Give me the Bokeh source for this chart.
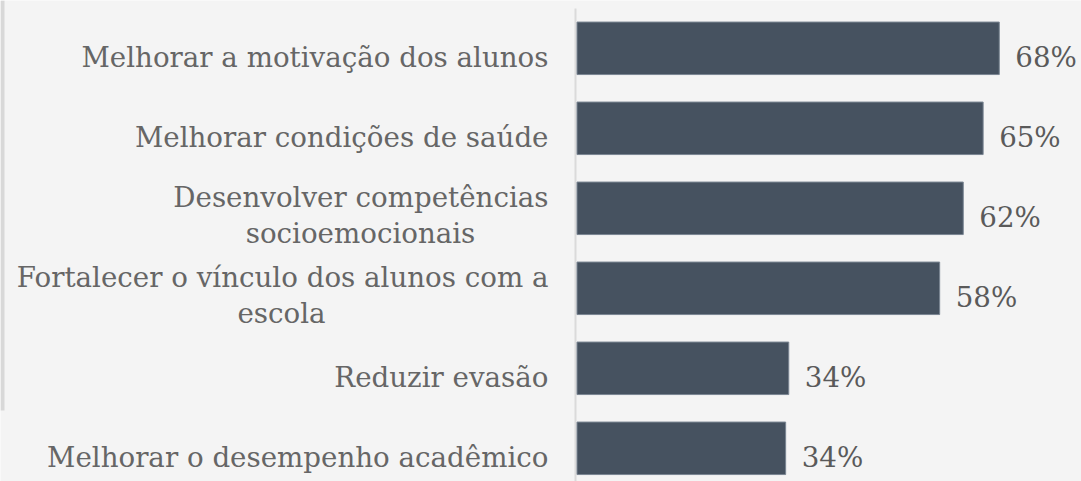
from bokeh.plotting import figure
from bokeh.models import Range1d
from bokeh.core.properties import value
from bokeh.embed import file_html
from bokeh.resources import INLINE

# ---- data ----
categories = [
    "Melhorar a motivação dos alunos",
    "Melhorar condições de saúde",
    "Desenvolver competências\nsocioemocionais",
    "Fortalecer o vínculo dos alunos com a\nescola",
    "Reduzir evasão",
    "Melhorar o desempenho acadêmico",
]
values = [68.0, 65.4, 62.2, 58.4, 34.1, 33.6]
value_labels = ["68%", "65%", "62%", "58%", "34%", "34%"]

# ---- layout constants (screen px) ----
W, H = 1081, 481
AXIS_PX = 576.5      # left edge of bars
PXU = 6.21           # px per percent
TOP_PX = 47.8        # centre of first band
BAND = 80.0          # band pitch
FONT = value("DejaVu Serif")
FS = "27.7px"
TXT = "#666666"

def X(px):
    return (px - AXIS_PX) / PXU

def Y(px):
    return (px - TOP_PX) / BAND

p = figure(width=W, height=H, output_backend="svg", toolbar_location=None,
           x_range=Range1d(X(0), X(W)), y_range=Range1d(Y(H), Y(0)),
           min_border=0, min_border_left=0, min_border_right=0,
           min_border_top=0, min_border_bottom=0)
p.axis.visible = False
p.grid.visible = False
p.outline_line_color = None
p.background_fill_color = "#f4f4f4"
p.border_fill_color = "#f4f4f4"

ys = list(range(len(categories)))

# left container border
p.quad(left=[X(0)], right=[X(4)], top=[Y(0)], bottom=[Y(410)],
       fill_color="#d8d8d8", line_color=None)

# axis line
p.segment(x0=[X(AXIS_PX - 1.5)], x1=[X(AXIS_PX - 1.5)], y0=[Y(8)], y1=[Y(H)],
          line_color="#dadada", line_width=2)

# bars
p.hbar(y=ys, left=0, right=values, height=52.5 / BAND,
       fill_color="#465260", line_color="#7a8592", line_width=1)

# value labels
p.text(x=values, y=ys, text=value_labels, x_offset=16, y_offset=9,
       text_align="left", text_baseline="alphabetic",
       text_font=FONT, text_font_size=FS, text_color="#5a5a5a")

# category labels (multi-line: lines centred within a right-aligned block)
RIGHT_PX = 548
for i, cat in enumerate(categories):
    lines = cat.split("\n")
    if len(lines) == 1:
        p.text(x=[X(RIGHT_PX)], y=[i], text=[lines[0]], y_offset=9,
               text_align="right", text_baseline="alphabetic",
               text_font=FONT, text_font_size=FS, text_color=TXT)
    else:
        p.text(x=[X(RIGHT_PX)], y=[i], text=[lines[0]], y_offset=-11,
               text_align="right", text_baseline="alphabetic",
               text_font=FONT, text_font_size=FS, text_color=TXT)
        centre_px = {2: 360, 3: 281}[i]
        p.text(x=[X(centre_px)], y=[i], text=[lines[1]], y_offset=25,
               text_align="center", text_baseline="alphabetic",
               text_font=FONT, text_font_size=FS, text_color=TXT)

open("out.html", "w").write(file_html(p, INLINE))
